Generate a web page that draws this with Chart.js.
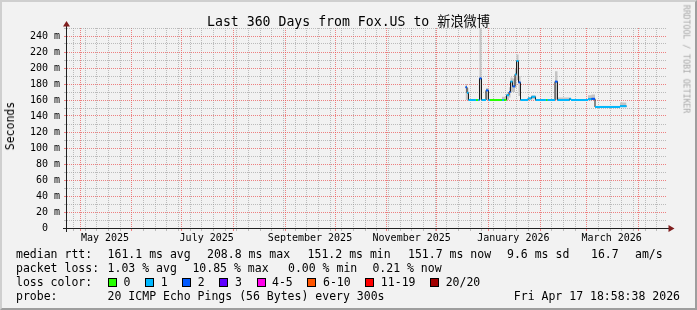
<!DOCTYPE html>
<html>
<head>
<meta charset="utf-8">
<title>Last 360 Days from Fox.US to 新浪微博</title>
<script src="https://cdn.jsdelivr.net/npm/chart.js@4.4.1/dist/chart.umd.min.js"></script>
<style>
  html, body { margin: 0; padding: 0; background: #f2f2f2; }
  #wrap { position: relative; width: 697px; height: 310px; overflow: hidden; background: #f2f2f2;
          font-family: "DejaVu Sans Mono", "Noto Sans CJK SC", monospace; color: #000; }
  #wrap canvas { position: absolute; left: 0; top: 0; }
  #frame { position: absolute; left: 0; top: 0; width: 693px; height: 306px; border: 2px solid;
           border-color: #cfcfcf #9e9e9e #9e9e9e #cfcfcf; pointer-events: none; }
  .t { position: absolute; white-space: pre; font-size: 11.5px; line-height: 12px; }
  #title { position: absolute; left: 0; top: 15px; width: 697px; text-align: center; white-space: pre;
           font-size: 13.2px; line-height: 14px; }
  #ylab { position: absolute; left: 10px; top: 126px; white-space: pre; font-size: 11.5px; line-height: 12px;
          transform: translate(-50%, -50%) rotate(-90deg); }
  #brand { position: absolute; left: 686px; top: 59px; white-space: pre; font-size: 8.2px; line-height: 9px;
           color: #a8a8a8; transform: translate(-50%, -50%) rotate(90deg); }
  #lossRow { position: absolute; left: 108px; top: 276px; height: 12px; display: flex; align-items: center;
             font-size: 11.5px; white-space: pre; }
  .box { width: 7px; height: 7px; border: 1px solid #000; margin-right: 6.5px; }
  .lbl { margin-right: 14.7px; line-height: 12px; }
</style>
</head>
<body>
<div id="wrap">
  <canvas id="c" width="697" height="310"></canvas>
  <div id="title">Last 360 Days from Fox.US to 新浪微博</div>
  <div id="ylab">Seconds</div>
  <div id="brand">RRDTOOL / TOBI OETIKER</div>

  <div class="t" style="left:16px;top:248px">median rtt:</div>
  <div class="t" style="left:107.6px;top:248px">161.1 ms avg</div>
  <div class="t" style="left:207px;top:248px">208.8 ms max</div>
  <div class="t" style="left:307.6px;top:248px">151.2 ms min</div>
  <div class="t" style="left:408px;top:248px">151.7 ms now</div>
  <div class="t" style="left:507px;top:248px">9.6 ms sd</div>
  <div class="t" style="left:591px;top:248px">16.7</div>
  <div class="t" style="left:635px;top:248px">am/s</div>

  <div class="t" style="left:16px;top:262px">packet loss:</div>
  <div class="t" style="left:107.6px;top:262px">1.03 % avg</div>
  <div class="t" style="left:192.4px;top:262px">10.85 % max</div>
  <div class="t" style="left:288px;top:262px">0.00 % min</div>
  <div class="t" style="left:372.4px;top:262px">0.21 % now</div>

  <div class="t" style="left:16px;top:276px">loss color:</div>
  <div id="lossRow"></div>

  <div class="t" style="left:16px;top:290px">probe:</div>
  <div class="t" style="left:107.6px;top:290px">20 ICMP Echo Pings (56 Bytes) every 300s</div>
  <div class="t" style="right:17px;top:290px">Fri Apr 17 18:58:38 2026</div>
  <div id="frame"></div>
</div>
<script>
const FONT = "'DejaVu Sans Mono', monospace";
const DAY = 86400000;

// packet loss classes (out of 20 pings)
const LOSS_LABELS = ["0", "1", "2", "3", "4-5", "6-10", "11-19", "20/20"];
const LOSS_COLORS = ["#26ff00", "#00b8ff", "#0059ff", "#5e00ff", "#ff00ea", "#ff5500", "#ff0000", "#a10000"];

// one entry per stretch of steady median
const runStart = [
  "2025-12-18T07:00", "2025-12-19T04:30", "2025-12-20T02:00", "2025-12-24T14:00", "2025-12-25T19:00",
  "2025-12-26T16:30", "2025-12-27T21:30", "2025-12-30T14:00", "2026-01-01T02:00", "2026-01-02T00:00",
  "2026-01-09T04:30", "2026-01-10T09:30", "2026-01-11T21:30", "2026-01-13T09:30", "2026-01-14T07:00",
  "2026-01-15T12:00", "2026-01-17T00:00", "2026-01-17T21:30", "2026-01-19T02:00", "2026-01-20T07:00",
  "2026-01-24T19:00", "2026-01-26T21:30", "2026-01-29T07:00", "2026-02-04T14:00", "2026-02-05T12:00",
  "2026-02-10T00:00", "2026-02-11T12:00", "2026-02-18T16:30", "2026-02-19T14:00", "2026-03-01T19:00",
  "2026-03-03T21:30", "2026-03-06T00:00", "2026-03-21T00:00",
];
const runEnd = "2026-03-24T21:30";
const medianMs = [
  176, 169, 160, 160, 160, 187, 160, 172, 160, 160,
  160, 160, 166, 170, 183, 177, 192, 208.8, 182, 160,
  162, 164, 160, 160, 160, 183, 160, 161.5, 160, 161,
  161.5, 151.3, 152.3,
];
const lossIdx = [
  2, 1, 1, 0, 1, 2, 1, 2, 1, 0,
  1, 0, 1, 2, 1, 2, 1, 1, 2, 1,
  1, 1, 1, 0, 1, 2, 1, 1, 1, 1,
  2, 1, 1,
];
const smokeLow = [
  160, 160, 159, 159, 159, 160, 159, 160, 159, 159,
  160, 160, 160, 163, 170, 170, 175, 185, 165, 159,
  160, 161, 159, 159, 159, 160, 159, 160, 159, 160,
  160, 150.5, 151,
];
const smokeHigh = [
  180, 175, 161, 161, 161, 250, 161, 175, 161, 161,
  164, 164, 168, 176, 188, 187, 200, 217, 190, 161,
  163, 166, 161, 161, 161, 196, 163, 162, 161, 166,
  167, 152.5, 157,
];

// x axis labels (rrdtool centres them half a month in)
const labelDates = ["2025-05-16", "2025-07-16", "2025-09-16", "2025-11-16", "2026-01-16", "2026-03-16"];
const labelTexts = ["May 2025", "July 2025", "September 2025", "November 2025", "January 2026", "March 2026"];

const toDay = (s) => (s.length === 10 ? Date.parse(s) : Date.parse(s + "Z")) / DAY;

// graph covers 360 days up to Fri Apr 17 18:58:38 2026; rrdtool's grid sits a touch left
const X_MIN = Date.UTC(2025, 3, 22, 18, 58, 38) / DAY + 0.4;
const X_MAX = X_MIN + 360;

const MINOR = "rgba(150, 150, 150, 0.6)";
const MAJOR = "rgba(235, 80, 80, 0.7)";

//============================
// data series
//============================

const runX = runStart.map(toDay).concat([toDay(runEnd)]);

function stepped(values) {
  return runX.map((x, i) => ({ x: x, y: values[Math.min(i, values.length - 1)] }));
}

// coloured horizontal pieces of the median, broken between runs
const medianPieces = [];
for (let i = 0; i < runStart.length; i++) {
  medianPieces.push({ x: runX[i], y: medianMs[i] });
  medianPieces.push({ x: runX[i + 1], y: medianMs[i] });
  medianPieces.push({ x: runX[i + 1], y: null });
}

//============================
// axis helpers
//============================

function buildTimeTicks(scale) {
  var ticks = [];
  for (let d = Math.ceil(scale.min); d <= scale.max; d++) {
    var date = new Date(d * DAY);
    if (date.getUTCDate() === 1) {
      ticks.push({ value: d, kind: "month" });
    } else if (date.getUTCDay() === 0) {
      ticks.push({ value: d, kind: "week" });
    }
  }
  for (let i = 0; i < labelDates.length; i++) {
    ticks.push({ value: toDay(labelDates[i]), kind: "label", text: labelTexts[i] });
  }
  ticks.sort((a, b) => a.value - b.value);
  scale.ticks = ticks;
}

function xGridColor(c) {
  if (!c.tick) return "transparent";
  if (c.tick.kind === "month") return MAJOR;
  if (c.tick.kind === "week") return MINOR;
  return "transparent";
}

const rrdAxes = {
  id: "rrdAxes",
  afterDatasetsDraw(chart) {
    const { ctx, chartArea: a } = chart;
    const x0 = a.left - 0.5;
    const y0 = a.bottom + 0.5;
    ctx.save();
    ctx.strokeStyle = "#1f1f1f";
    ctx.lineWidth = 1;
    ctx.beginPath();
    ctx.moveTo(a.left - 4, y0);
    ctx.lineTo(a.right + 3, y0);
    ctx.moveTo(x0, a.bottom + 4);
    ctx.lineTo(x0, a.top - 3);
    ctx.stroke();
    ctx.fillStyle = "#801f1f";
    ctx.beginPath();
    ctx.moveTo(a.right + 7.5, y0);
    ctx.lineTo(a.right + 1.5, y0 - 3.5);
    ctx.lineTo(a.right + 1.5, y0 + 3.5);
    ctx.closePath();
    ctx.moveTo(x0, a.top - 7);
    ctx.lineTo(x0 - 3.5, a.top - 1.5);
    ctx.lineTo(x0 + 3.5, a.top - 1.5);
    ctx.closePath();
    ctx.fill();
    ctx.restore();
  },
};

//============================
// chart
//============================

var config = {
  type: "line",
  data: {
    datasets: [
      {
        label: "median",
        data: medianPieces,
        borderWidth: 2,
        borderCapStyle: "butt",
        borderColor: LOSS_COLORS[1],
        segment: {
          borderColor: (c) => LOSS_COLORS[lossIdx[Math.floor(c.p0DataIndex / 3)]],
        },
        pointRadius: 0,
        spanGaps: false,
      },
      {
        label: "median line",
        data: stepped(medianMs),
        stepped: "before",
        borderColor: "#1c1c1c",
        borderWidth: 1,
        pointRadius: 0,
      },
      {
        label: "smoke low",
        data: stepped(smokeLow),
        stepped: "before",
        borderColor: "transparent",
        borderWidth: 1,
        pointRadius: 0,
      },
      {
        label: "smoke high",
        data: stepped(smokeHigh),
        stepped: "before",
        borderColor: "transparent",
        borderWidth: 1,
        pointRadius: 0,
        fill: "-1",
        backgroundColor: "#c4c4c4",
      },
    ],
  },
  options: {
    responsive: false,
    devicePixelRatio: 1,
    animation: false,
    layout: { padding: { top: 28, right: 30, bottom: 62, left: 0 } },
    plugins: { legend: { display: false }, tooltip: { enabled: false }, title: { display: false } },
    scales: {
      x: {
        type: "linear",
        min: X_MIN,
        max: X_MAX,
        afterBuildTicks: buildTimeTicks,
        afterFit: (s) => { s.height = 20; },
        grid: { color: xGridColor, tickLength: 3 },
        border: { display: false, dash: [1, 1] },
        ticks: {
          autoSkip: false,
          maxRotation: 0,
          padding: 1,
          color: "#000",
          font: { family: FONT, size: 10 },
          callback: (v, i, ticks) => ticks[i].text || "",
        },
      },
      y: {
        min: 0,
        max: 250,
        afterFit: (s) => { s.width = 67; },
        grid: {
          color: (c) => (c.tick ? (c.tick.value % 20 === 0 ? MAJOR : MINOR) : "transparent"),
          tickLength: 3,
        },
        border: { display: false, dash: [1, 1] },
        ticks: {
          stepSize: 10,
          autoSkip: false,
          padding: 4,
          color: "#000",
          font: { family: FONT, size: 10 },
          callback: (v) => (v % 20 ? "" : v === 0 ? "0  " : v + " m"),
        },
      },
    },
  },
  plugins: [rrdAxes],
};

new Chart(document.getElementById("c"), config);

// loss colour legend
const lossRow = document.getElementById("lossRow");
for (let i = 0; i < LOSS_LABELS.length; i++) {
  var box = document.createElement("span");
  box.className = "box";
  box.style.background = LOSS_COLORS[i];
  var lbl = document.createElement("span");
  lbl.className = "lbl";
  lbl.textContent = LOSS_LABELS[i];
  lossRow.appendChild(box);
  lossRow.appendChild(lbl);
}
</script>
</body>
</html>
